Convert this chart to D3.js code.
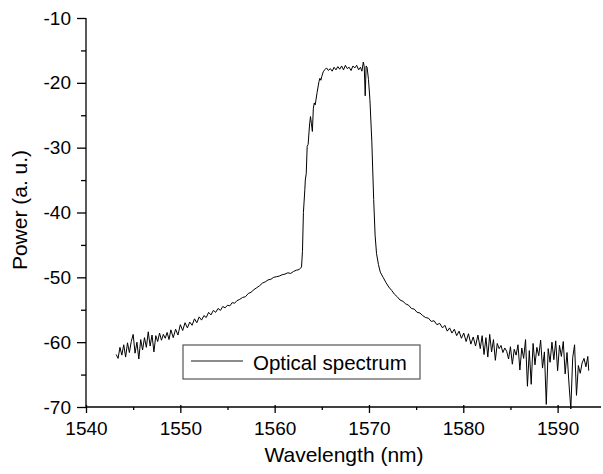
<!DOCTYPE html>
<html>
<head>
<meta charset="utf-8">
<script src="https://cdn.jsdelivr.net/npm/d3@7"></script>
<style>
  body { margin: 0; background: #fff; }
  text { font-family: "Liberation Sans", Arial, sans-serif; fill: #000; }
</style>
</head>
<body>
<div id="chart"></div>
<script>
// Spectrum: [wavelength (nm), power (a. u.)]
var spectrum = [
  [1543.2,-61.9],[1543.4,-62.5],[1543.6,-60.8],[1543.8,-62.0],[1544.0,-60.4],[1544.2,-62.3],
  [1544.4,-60.1],[1544.6,-61.6],[1544.8,-59.9],[1545.0,-58.8],[1545.2,-61.7],[1545.4,-60.0],
  [1545.6,-62.6],[1545.8,-59.6],[1546.0,-61.2],[1546.2,-59.3],[1546.4,-60.8],[1546.6,-58.4],
  [1546.8,-60.6],[1547.0,-58.9],[1547.2,-61.5],[1547.4,-59.0],[1547.6,-59.9],[1547.8,-58.6],
  [1548.0,-59.7],[1548.2,-58.8],[1548.4,-59.4],[1548.6,-58.5],[1548.8,-59.6],[1549.0,-58.1],
  [1549.25,-59.3],[1549.5,-58.0],[1549.75,-58.9],[1550.0,-57.3],[1550.25,-58.2],[1550.5,-57.0],
  [1550.75,-57.8],[1551.0,-56.9],[1551.25,-57.4],[1551.5,-56.4],[1551.75,-57.0],[1552.0,-56.1],
  [1552.25,-56.6],[1552.5,-55.9],[1552.75,-56.2],[1553.0,-55.4],[1553.25,-55.8],[1553.5,-55.1],
  [1553.75,-55.4],[1554.0,-54.8],[1554.25,-55.1],[1554.5,-54.5],[1554.75,-54.7],[1555.0,-54.3],
  [1555.25,-54.4],[1555.5,-53.9],[1555.75,-54.0],[1556.0,-53.6],
  [1556.3,-53.4],[1556.6,-53.1],[1556.9,-53.0],[1557.2,-52.5],[1557.5,-52.3],[1557.8,-51.9],
  [1558.1,-51.6],[1558.4,-51.3],[1558.7,-50.9],[1559.0,-50.7],[1559.3,-50.4],[1559.6,-50.3],
  [1559.9,-50.0],[1560.2,-49.9],[1560.5,-49.8],[1560.8,-49.6],[1561.1,-49.5],[1561.4,-49.3],
  [1561.7,-49.4],[1562.0,-49.1],[1562.3,-48.9],[1562.6,-48.8],[1562.85,-48.4],
  // rising edge
  [1562.95,-46.0],[1563.05,-40.0],[1563.2,-36.5],[1563.25,-35.0],[1563.35,-34.0],[1563.45,-29.8],
  [1563.55,-29.5],[1563.7,-26.5],[1563.8,-25.2],[1563.9,-26.3],[1564.0,-27.5],[1564.1,-24.0],
  [1564.2,-23.1],[1564.3,-23.4],[1564.5,-21.5],[1564.7,-19.8],[1564.8,-19.3],[1564.9,-19.6],
  [1565.0,-19.0],[1565.15,-18.3],[1565.3,-18.0],
  // top
  [1565.5,-17.7],[1565.7,-18.1],[1565.9,-17.8],[1566.1,-18.2],[1566.3,-17.6],[1566.5,-18.0],
  [1566.7,-17.5],[1566.9,-17.9],[1567.1,-17.4],[1567.3,-18.0],[1567.5,-17.3],[1567.7,-17.8],
  [1567.9,-17.6],[1568.1,-18.1],[1568.3,-17.4],[1568.5,-17.7],[1568.7,-17.3],[1568.9,-18.0],
  [1569.1,-17.6],[1569.25,-18.2],[1569.4,-16.8],[1569.5,-17.5],[1569.6,-22.0],[1569.7,-17.4],
  [1569.8,-17.6],
  // falling edge
  [1569.95,-19.5],[1570.1,-22.6],[1570.3,-29.0],[1570.5,-38.0],[1570.65,-43.5],[1570.8,-46.3],
  [1571.0,-48.0],[1571.2,-49.2],[1571.5,-50.0],[1571.8,-50.8],[1572.1,-51.5],[1572.4,-52.0],
  [1572.7,-52.6],[1573.0,-53.0],
  [1573.3,-53.5],[1573.6,-53.7],[1573.9,-54.1],[1574.2,-54.3],[1574.5,-54.8],[1574.8,-54.9],
  [1575.1,-55.4],[1575.4,-55.5],[1575.7,-55.9],[1576.0,-56.2],[1576.3,-56.3],[1576.6,-56.8],
  [1576.9,-56.7],[1577.2,-57.3],[1577.5,-57.1],[1577.8,-57.8],
  [1578.05,-57.4],[1578.3,-58.3],[1578.55,-57.8],[1578.8,-58.6],[1579.05,-58.0],[1579.3,-59.0],
  [1579.55,-58.3],[1579.8,-59.4],[1580.05,-58.6],[1580.3,-59.9],[1580.55,-58.7],[1580.8,-60.3],
  [1581.05,-59.2],[1581.3,-60.6],[1581.55,-58.9],[1581.8,-61.0],
  [1582.0,-59.0],[1582.2,-61.9],[1582.4,-59.3],[1582.6,-62.3],[1582.8,-58.8],[1583.0,-61.5],
  [1583.2,-59.6],[1583.4,-62.8],[1583.6,-60.2],[1583.8,-61.0],[1584.0,-60.5],[1584.2,-61.6],
  [1584.4,-60.9],[1584.6,-61.4],[1584.8,-62.6],[1585.0,-60.7],[1585.2,-63.4],[1585.4,-61.1],
  [1585.6,-62.0],[1585.8,-60.4],[1586.0,-64.3],[1586.2,-60.9],[1586.4,-62.5],[1586.6,-59.6],
  [1586.8,-66.8],[1587.0,-61.3],[1587.2,-66.5],[1587.4,-60.2],[1587.6,-63.5],[1587.8,-60.8],
  [1588.0,-62.1],[1588.2,-59.7],[1588.4,-64.0],[1588.6,-61.5],[1588.8,-69.6],[1589.0,-61.0],
  [1589.2,-63.1],[1589.4,-60.0],[1589.6,-62.7],[1589.8,-59.8],[1590.0,-64.4],[1590.2,-60.5],
  [1590.4,-62.2],[1590.6,-59.9],[1590.8,-64.9],[1591.0,-61.6],[1591.2,-66.3],[1591.4,-70.3],
  [1591.6,-62.4],[1591.8,-60.4],[1592.0,-68.2],[1592.2,-63.6],[1592.4,-64.8],[1592.6,-63.2],
  [1592.8,-62.5],[1593.0,-63.8],[1593.2,-62.2],[1593.3,-64.4]
];

var xTicks = [1540, 1550, 1560, 1570, 1580, 1590];
var xMinorTicks = [1545, 1555, 1565, 1575, 1585];
var yTicks = [-70, -60, -50, -40, -30, -20, -10];
var yMinorTicks = [-65, -55, -45, -35, -25, -15];
var legendLabel = "Optical spectrum";
var xTitle = "Wavelength (nm)";
var yTitle = "Power (a. u.)";

var W = 603, H = 474;
var margin = { top: 18, right: 2, bottom: 67, left: 86 },
    width = W - margin.left - margin.right,
    height = H - margin.top - margin.bottom;

var svg = d3.select("#chart")
  .append("svg")
    .attr("width", W)
    .attr("height", H)
  .append("g")
    .attr("transform", "translate(" + margin.left + "," + margin.top + ")");

var x = d3.scaleLinear().domain([1540, 1594.6]).range([0, width]);
var y = d3.scaleLinear().domain([-70, -10]).range([height, 0]);

// plain hyphen minus, like the original
var fmt = function (d) { return String(d); };

// X axis
var xAxis = svg.append("g")
  .attr("transform", "translate(0," + height + ")")
  .call(d3.axisBottom(x).tickValues(xTicks).tickSize(6).tickPadding(9).tickFormat(fmt));
xAxis.selectAll(".tick line").attr("y1", -2);
svg.append("g")
  .attr("transform", "translate(0," + height + ")")
  .call(d3.axisBottom(x).tickValues(xMinorTicks).tickSize(3).tickFormat(""))
  .select(".domain").remove();

// Y axis
var yAxis = svg.append("g")
  .call(d3.axisLeft(y).tickValues(yTicks).tickSize(9).tickPadding(6).tickFormat(fmt));
svg.append("g")
  .call(d3.axisLeft(y).tickValues(yMinorTicks).tickSize(5).tickFormat(""))
  .select(".domain").remove();

xAxis.select(".domain").remove();
yAxis.select(".domain").remove();
svg.append("line").attr("x1", 0).attr("x2", width).attr("y1", height).attr("y2", height)
  .attr("stroke", "#000").attr("stroke-width", 1.3);
svg.append("line").attr("x1", 0).attr("x2", 0).attr("y1", 0).attr("y2", height)
  .attr("stroke", "#000").attr("stroke-width", 1.3);

svg.selectAll(".tick line").attr("stroke", "#000").attr("stroke-width", 1.3);
svg.selectAll(".tick text")
  .style("font-size", "19px")
  .style("font-family", "'Liberation Sans', Arial, sans-serif")
  .attr("fill", "#000");

// Spectrum line
var line = d3.line()
  .x(function (d) { return x(d[0]); })
  .y(function (d) { return y(d[1]); });

svg.append("path")
  .datum(spectrum)
  .attr("fill", "none")
  .attr("stroke", "#000")
  .attr("stroke-width", 1)
  .attr("stroke-linejoin", "round")
  .attr("d", line);

// Legend
var legend = svg.append("g").attr("transform", "translate(" + (183 - margin.left) + "," + (345 - margin.top) + ")");
legend.append("rect")
  .attr("width", 237).attr("height", 34)
  .attr("fill", "#fff")
  .attr("stroke", "#555").attr("stroke-width", 1.2);
legend.append("line")
  .attr("x1", 8).attr("x2", 60).attr("y1", 16).attr("y2", 16)
  .attr("stroke", "#666").attr("stroke-width", 1.5);
legend.append("text")
  .attr("x", 70).attr("y", 25)
  .style("font-size", "20.5px")
  .text(legendLabel);

// Axis titles
svg.append("text")
  .attr("x", 344 - margin.left)
  .attr("y", 462 - margin.top)
  .attr("text-anchor", "middle")
  .style("font-size", "21px")
  .text(xTitle);

svg.append("text")
  .attr("transform", "translate(" + (27 - margin.left) + "," + (210 - margin.top) + ") rotate(-90)")
  .attr("text-anchor", "middle")
  .style("font-size", "21px")
  .text(yTitle);
</script>
</body>
</html>
